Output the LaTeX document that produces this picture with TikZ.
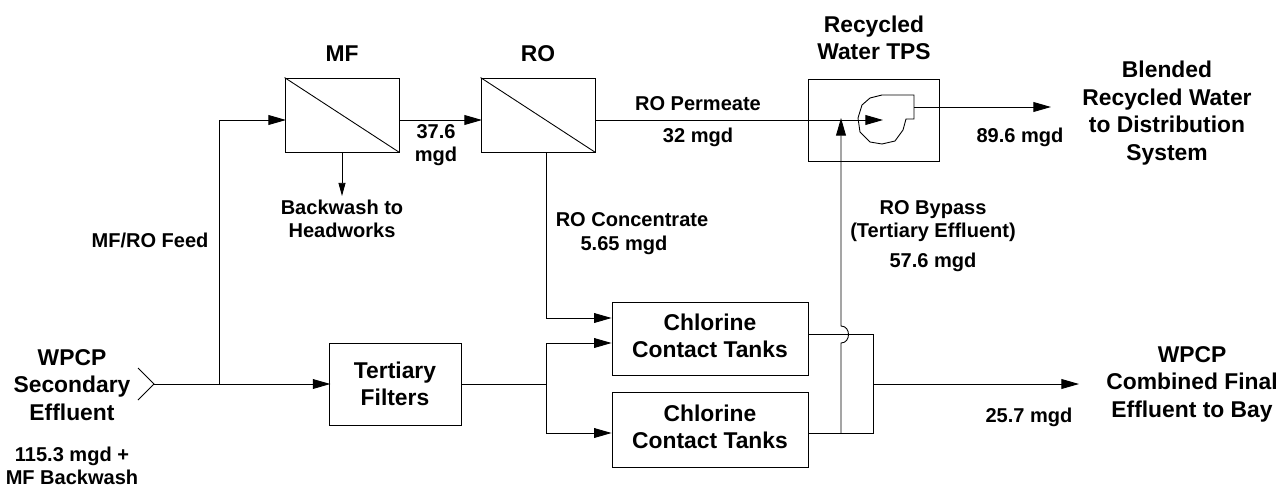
\documentclass[tikz,border=0pt]{standalone}
\usepackage{fontspec}
\setmainfont{Liberation Sans}
\usetikzlibrary{arrows.meta}
\begin{document}
\begin{tikzpicture}[x={(0.02cm,0cm)}, y={(0cm,-0.02cm)}, line width=0.5pt,
          >={Triangle[length=10pt,width=5.6pt]},
          small/.style={font=\fontsize{11.4}{13.3}\selectfont\bfseries, align=center, inner sep=0pt},
          title/.style={font=\fontsize{13}{15.7}\selectfont\bfseries, align=center, inner sep=0pt},
          proc/.style={draw, title, minimum width=#1},
          memb/.style={draw, minimum width=2.28cm, minimum height=1.48cm, inner sep=0pt},
          tinyarrow/.style={-{Triangle[length=7.5pt,width=4pt]}}]
        \useasboundingbox (0,0) rectangle (1281,487);
        % process boxes
        \node[memb] (mf) at (342,115) {};
        \node[memb] (ro) at (538,115) {};
        \node[draw, minimum width=2.62cm, minimum height=1.64cm, inner sep=0pt] (tps) at (873.5,120) {};
        \node[proc=2.64cm, minimum height=1.64cm] (tert) at (395,384) {Tertiary\\Filters};
        \node[proc=3.92cm, minimum height=1.46cm, text depth=3.4pt] (cct1) at (710,338.5) {Chlorine\\Contact Tanks};
        \node[proc=3.92cm, minimum height=1.50cm, text depth=3.4pt] (cct2) at (710,429.5) {Chlorine\\Contact Tanks};
        \draw (mf.north west) -- (mf.south east);
        \draw (ro.north west) -- (ro.south east);
        % fan
        \draw (914,95) -- (882,95) -- (870,98) -- (862,105) -- (858,118) -- (860,132) -- (870,142)
              -- (882,144) -- (895,141) -- (903,130) -- (906,119) -- (914,119) -- cycle;
        % points on the lines
        \coordinate (in) at (154,384);
        \coordinate (inA) at (138,368);
        \coordinate (inB) at (138,400);
        \coordinate (tee) at (219,384);
        \coordinate (feed) at (219,120);
        \coordinate (mfin) at (286,120);
        \coordinate (mfout) at (399,120);
        \coordinate (roin) at (482,120);
        \coordinate (roout) at (595,120);
        \coordinate (fanin) at (883,120);
        \coordinate (fanout) at (914,107);
        \coordinate (blend) at (1051,107);
        \coordinate (bwend) at (342,196);
        \coordinate (conc) at (546,152);
        \coordinate (concin) at (546,318);
        \coordinate (split) at (546,384);
        \coordinate (splitA) at (546,343);
        \coordinate (splitB) at (546,433);
        \coordinate (out1) at (873,334);
        \coordinate (out2) at (873,433);
        \coordinate (outm) at (873,384);
        \coordinate (bay) at (1079,384);
        \coordinate (byp) at (841,433);
        \coordinate (bypA) at (841,343);
        \coordinate (bypB) at (841,326);
        \coordinate (bypend) at (841,118);
        % lines
        \draw (inA) -- (in) -- (inB);
        \draw[->] (in) -- ([xshift=1pt]tert.west);
        \draw[->] (tee) -- (feed) -- (mfin);
        \draw[->] (mfout) -- (roin);
        \draw[tinyarrow] (mf.south) -- (bwend);
        \draw[->] (roout) -- (fanin);
        \draw[->] (fanout) -- (blend);
        \draw[->] (conc) -- (concin) -- (concin -| cct1.west);
        \draw (tert.east) -- (split);
        \draw[->] (split) -- (splitA) -- (splitA -| cct1.west);
        \draw[->] (split) -- (splitB) -- (splitB -| cct2.west);
        \draw (out1 -| cct1.east) -- (out1) -- (out2) -- (out2 -| cct2.east);
        \draw[->] (outm) -- (bay);
        \draw[->] (byp) -- (bypA) .. controls (851,343) and (851,326) .. (bypB) -- (bypend);
        % labels
        \node[title] (lmf) at (342,54) {MF};
        \node[title] (lro) at (538,54) {RO};
        \node[title] (ltps) at (874,38) {Recycled\\Water TPS};
        \node[title] (lblend) at (1167,113) {Blended\\Recycled Water\\to Distribution\\System};
        \node[title] (lsec) at (72,385) {WPCP\\Secondary\\Effluent};
        \node[title] (lbay) at (1192,384) {WPCP\\Combined Final\\Effluent to Bay};
        \node[small] (l376) at (436,145) {37.6\\mgd};
        \node[small] (lperm) at (698,104) {RO Permeate};
        \node[small] (l32) at (698,137) {32 mgd};
        \node[small] (l896) at (1020,137) {89.6 mgd};
        \node[small] (lbw) at (342,219) {Backwash to\\Headworks};
        \node[small] (lfeed) at (150,240) {MF/RO Feed};
        \node[small] (lconc) at (632,220) {RO Concentrate};
        \node[small] (lconcb) at (624,245) {5.65 mgd};
        \node[small] (lbyp) at (933,221) {RO Bypass\\(Tertiary Effluent)};
        \node[small] (l576) at (933,262) {57.6 mgd};
        \node[small] (l1153) at (72,466) {115.3 mgd +\\MF Backwash};
        \node[small] (l257) at (1029,417) {25.7 mgd};
      \end{tikzpicture}
\end{document}
